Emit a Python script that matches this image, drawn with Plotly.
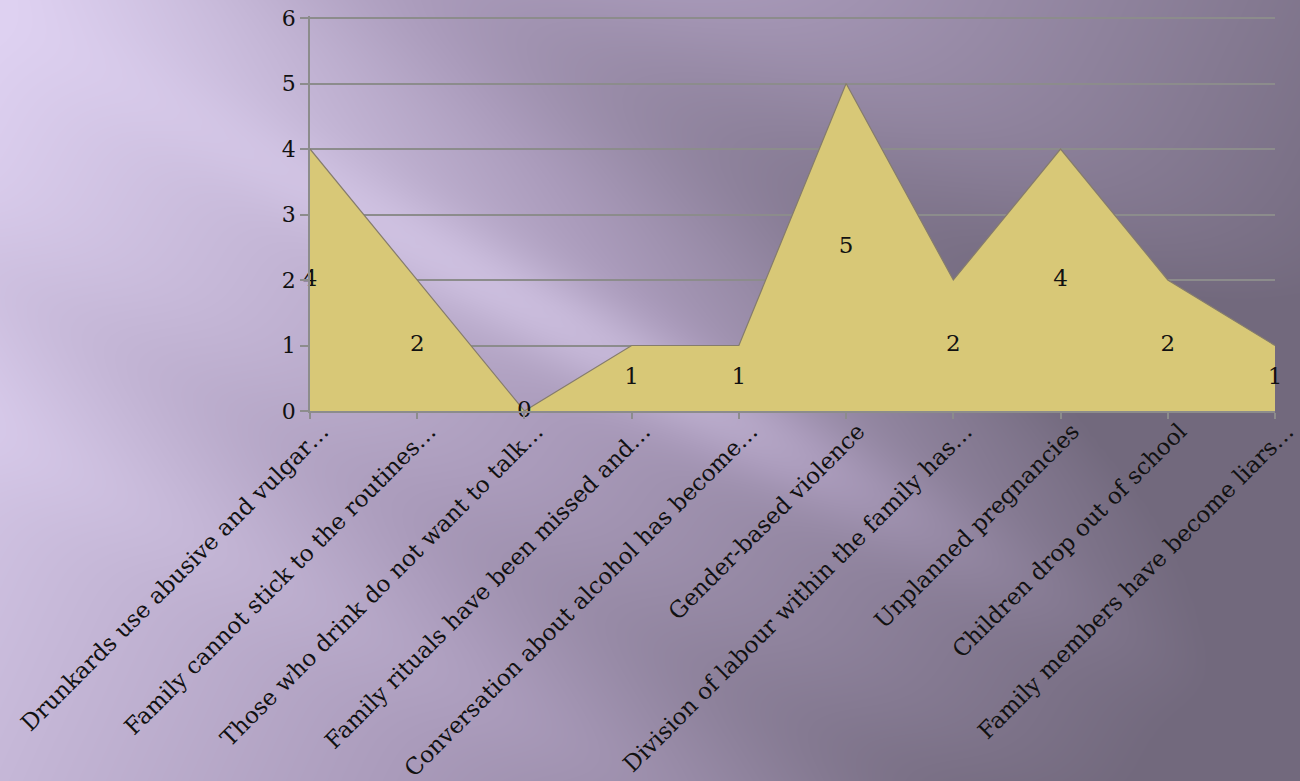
import numpy as np
import plotly.graph_objects as go

categories = [
    "Drunkards use abusive and vulgar…",
    "Family cannot stick to the routines…",
    "Those who drink do not want to talk…",
    "Family rituals have been missed and…",
    "Conversation about alcohol has become…",
    "Gender-based violence",
    "Division of labour within the family has…",
    "Unplanned pregnancies",
    "Children drop out of school",
    "Family members have become liars…",
]
values = [4, 2, 0, 1, 1, 5, 2, 4, 2, 1]
y_ticks = [0, 1, 2, 3, 4, 5, 6]

W, H = 1300, 781
FONT = "Palatino Linotype, Book Antiqua, Palatino, DejaVu Serif, serif"

# ---- decorative background (gradient with diagonal streaks) ----
gx = np.linspace(0, W, 131)
gy = np.linspace(0, H, 80)
X, Y = np.meshgrid(gx, gy)
xn, yn = X / W, Y / H
t = 0.87 * xn + 0.24 * yn
u = 0.48 * X - 0.877 * Y
t += 0.22 * np.exp(-((u - 220) / 110) ** 2)
t += -0.27 * np.exp(-((u + 15) / 45) ** 2) * np.exp(-((X - 620) / 360) ** 2)
t += -0.05 * np.exp(-((u + 380) / 50) ** 2)
t += 0.07 * np.exp(-((u + 250) / 60) ** 2)
t = np.clip(t, 0, 1)
bg_scale = [[0, "#ded1f1"], [0.5, "#aa9bbb"], [1, "#72697d"]]

fig = go.Figure()
fig.add_trace(go.Heatmap(
    x=gx, y=gy, z=t, colorscale=bg_scale, zmin=0, zmax=1, zsmooth="best",
    showscale=False, hoverinfo="skip", xaxis="x", yaxis="y",
))

# ---- area chart ----
fig.add_trace(go.Scatter(
    x=categories, y=values, mode="lines", fill="tozeroy",
    fillcolor="#d8c877", line=dict(color="#857c6c", width=1.2),
    xaxis="x2", yaxis="y2", hoverinfo="skip",
))
fig.add_trace(go.Scatter(
    x=categories, y=[v / 2 for v in values], mode="text",
    text=[str(v) for v in values], textposition="middle center",
    textfont=dict(family=FONT, size=23, color="#111111"),
    xaxis="x2", yaxis="y2", cliponaxis=False, hoverinfo="skip",
))

grid = "#8c8c8c"
unit_px = 393 / 6
top_pad = 2 / unit_px
fig.update_layout(
    width=W, height=H,
    margin=dict(l=0, r=0, t=0, b=0, pad=0),
    paper_bgcolor="#a898b8",
    plot_bgcolor="rgba(0,0,0,0)",
    showlegend=False,
    font=dict(family=FONT, size=22, color="#111111"),
    xaxis=dict(domain=[0, 1], range=[0, W], visible=False, fixedrange=True,
               automargin=False),
    yaxis=dict(domain=[0, 1], range=[H, 0], visible=False, fixedrange=True,
               automargin=False),
    xaxis2=dict(
        domain=[310 / W, 1275 / W], anchor="y2", type="category",
        range=[0, len(categories) - 1], tickangle=-45, automargin=False,
        ticks="outside", ticklen=6, tickcolor=grid, tickwidth=1.5,
        showline=True, linecolor=grid, linewidth=1.5, showgrid=False,
        ticklabelshift=12, ticklabelstandoff=-10,
        tickfont=dict(family=FONT, size=23, color="#111111"),
    ),
    yaxis2=dict(
        domain=[1 - 411 / H, 1 - 16 / H], anchor="x2", automargin=False,
        range=[0, 6 + top_pad], tickvals=y_ticks, ticks="outside", ticklen=8,
        tickcolor=grid, tickwidth=1.5, showline=True, linecolor=grid,
        linewidth=1.5, showgrid=True, gridcolor=grid, gridwidth=1.5,
        zeroline=False,
        tickfont=dict(family=FONT, size=22, color="#111111"),
    ),
)

fig.write_html(
    "out.html",
    config={"displayModeBar": False},
    post_script="document.body.style.margin='0';document.body.style.overflow='hidden';",
)
